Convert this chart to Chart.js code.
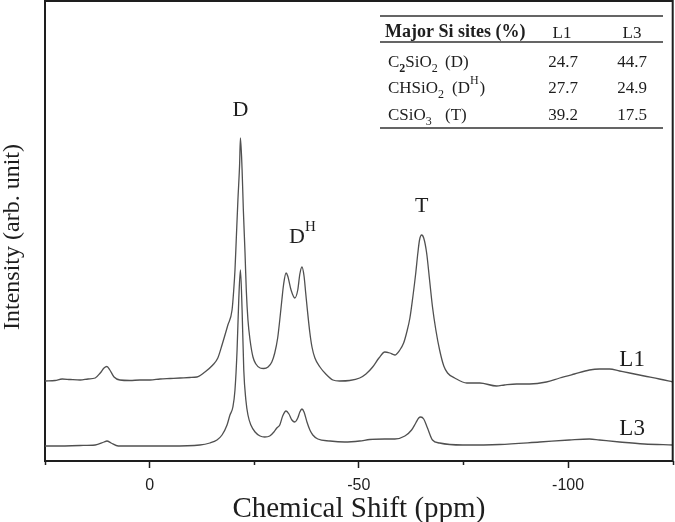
<!DOCTYPE html>
<html>
<head>
<meta charset="utf-8">
<script src="https://cdn.jsdelivr.net/npm/chart.js@4.4.0/dist/chart.umd.min.js"></script>
<style>
  html, body { margin: 0; padding: 0; background: #fff; }
</style>
</head>
<body>
<canvas id="chart" width="675" height="522"></canvas>
<script>
// chemical shift (ppm) and intensity (arb. unit); L1 sits offset above L3
const l1Shift = [25.0, 22.6, 20.9, 19.0, 16.6, 14.7, 13.0, 11.8, 10.9, 10.2, 9.5, 8.5, 7.1, 4.7, 2.3, -0.1,
  -2.5, -4.9, -7.3, -9.6, -11.3, -13.2, -15.1, -16.3, -17.3, -18.7, -19.7, -20.1, -20.4, -20.7, -21.1, -21.5,
  -21.7, -22.1, -22.4, -22.8, -23.1, -23.5, -24.0, -24.7, -25.4, -26.4, -27.3, -28.3, -29.2, -29.9, -30.6, -31.1,
  -31.6, -32.0, -32.6, -33.0, -33.8, -34.7, -35.4, -35.9, -36.4, -36.9, -37.3, -37.7, -38.3, -38.8, -39.5, -40.7,
  -42.1, -43.8, -45.4, -47.8, -50.2, -51.7, -53.3, -54.8, -56.2, -57.4, -58.6, -59.8, -60.7, -61.4, -62.2, -62.9,
  -63.6, -64.1, -64.5, -65.0, -65.5, -66.2, -66.9, -67.6, -68.4, -69.3, -70.3, -71.2, -72.9, -75.8, -78.9, -82.9,
  -84.8, -87.7, -90.8, -94.8, -98.0, -101.5, -105.1, -107.5, -109.9, -112.3, -114.7, -118.2, -121.8, -125.0];
const l1Intensity = [80, 80.5, 82, 81.5, 81, 82, 83, 88, 93, 94.5, 91, 84, 81, 80.5, 81, 81,
  82, 82.5, 83, 83.5, 84, 89, 96, 103, 116, 136, 151, 171, 191, 221, 261, 296,
  323, 291, 251, 208, 171, 141, 121, 104, 97, 93, 92.5, 94, 99, 108, 123, 141,
  161, 176, 188, 185, 171, 163, 171, 187, 194, 185, 168, 151, 128, 114, 103, 94,
  87, 81, 80, 80.5, 83, 87, 94, 103, 109, 108, 106, 111, 118, 128, 143, 164,
  188, 208, 221, 226, 223, 208, 181, 154, 131, 111, 95, 88, 83, 78, 78, 75,
  76, 77, 77, 79, 83, 87, 91, 92, 92, 90, 88, 85, 82, 79];

const l3Shift = [25.0, 21.4, 16.6, 13.0, 10.9, 10.2, 9.2, 7.5, 2.3, -4.9, -12.0, -14.4, -16.1, -17.3, -18.5, -19.2,
  -19.9, -20.4, -20.9, -21.3, -21.7, -22.1, -22.5, -23.0, -23.5, -24.2, -25.2, -26.4, -27.5, -28.7, -29.7, -30.4,
  -31.1, -31.8, -32.6, -33.3, -34.0, -34.7, -35.4, -35.9, -36.4, -36.9, -37.6, -38.3, -39.0, -40.2, -43.1, -46.6,
  -50.2, -52.6, -56.2, -58.6, -61.0, -62.6, -63.6, -64.3, -64.8, -65.5, -66.4, -67.6, -69.3, -74.8, -83.6, -93.2,
  -100.3, -105.1, -107.5, -112.3, -118.2, -125.0];
const l3Intensity = [15, 15, 15.5, 16, 19, 20, 18, 15, 15, 15, 16, 18, 21, 26, 36, 46,
  54, 71, 111, 161, 191, 151, 91, 61, 46, 36, 29, 25, 24, 25, 29, 33,
  36, 45, 50, 47, 41, 39, 43, 49, 52, 49, 39, 31, 26, 22, 20, 19,
  20, 21.5, 22, 22, 25, 31, 38, 43, 44, 42, 33, 21, 18, 16, 16.5, 19,
  21, 22, 21, 19, 17, 16];

// inset table
const siteFormulas = [
  [{ t: 'C' }, { t: '2', s: 'sub', b: true }, { t: 'SiO' }, { t: '2', s: 'sub' }],
  [{ t: 'CHSiO' }, { t: '2', s: 'sub' }],
  [{ t: 'CSiO' }, { t: '3', s: 'sub' }]
];
const siteTags = [
  [{ t: '(D)' }],
  [{ t: '(D' }, { t: 'H', s: 'sup' }, { t: ')' }],
  [{ t: '(T)' }]
];
const l1Percent = ['24.7', '27.7', '39.2'];
const l3Percent = ['44.7', '24.9', '17.5'];

const SERIF = '"Liberation Serif", "Times New Roman", serif';
const INK = '#1e1e1e';

// draws text with sub/superscript pieces, left to right
function rich(ctx, x, y, parts, size, align) {
  const fontFor = p => `${p.b ? 'bold ' : ''}${p.s ? Math.round(size * 0.68) : size}px ${SERIF}`;
  ctx.textAlign = 'left';
  let w = 0;
  parts.forEach(p => { ctx.font = fontFor(p); w += ctx.measureText(p.t).width; });
  let cx = align === 'center' ? x - w / 2 : x;
  parts.forEach(p => {
    ctx.font = fontFor(p);
    const dy = p.s === 'sub' ? size * 0.28 : p.s === 'sup' ? -size * 0.55 : 0;
    ctx.fillText(p.t, cx, y + dy);
    cx += ctx.measureText(p.t).width + (p.s === 'sup' ? 1 : 0);
  });
}

const decor = {
  id: 'decor',
  afterDraw(chart) {
    const { ctx, chartArea: a, scales: { x, y } } = chart;
    ctx.save();
    ctx.strokeStyle = INK;
    // top and right of the frame
    ctx.lineWidth = 2;
    ctx.beginPath();
    ctx.moveTo(a.left - 1, a.top);
    ctx.lineTo(a.right, a.top);
    ctx.lineTo(a.right, a.bottom);
    ctx.stroke();
    // short minor ticks
    ctx.lineWidth = 1.5;
    ctx.beginPath();
    x.ticks.forEach(t => {
      if (t.value % 50 !== 0) {
        const px = Math.round(x.getPixelForValue(t.value)) + 0.5;
        ctx.moveTo(px, a.bottom);
        ctx.lineTo(px, a.bottom + 4);
      }
    });
    ctx.stroke();

    ctx.fillStyle = INK;
    ctx.textBaseline = 'middle';
    ctx.textAlign = 'center';
    // y title
    ctx.save();
    ctx.translate(13, 237);
    ctx.rotate(-Math.PI / 2);
    ctx.font = `24px ${SERIF}`;
    ctx.fillText('Intensity (arb. unit)', 0, 0);
    ctx.restore();

    // peak labels
    ctx.font = `22px ${SERIF}`;
    ctx.fillText('D', x.getPixelForValue(-21.7), y.getPixelForValue(351));
    ctx.fillText('T', x.getPixelForValue(-65.0), y.getPixelForValue(255));
    ctx.textBaseline = 'alphabetic';
    rich(ctx, x.getPixelForValue(-36.5), y.getPixelForValue(218), [{ t: 'D' }, { t: 'H', s: 'sup' }], 22, 'center');
    // trace labels
    ctx.textAlign = 'center';
    ctx.textBaseline = 'middle';
    ctx.font = `23px ${SERIF}`;
    ctx.fillText('L1', x.getPixelForValue(-115.3), y.getPixelForValue(101));
    ctx.fillText('L3', x.getPixelForValue(-115.3), y.getPixelForValue(32));

    // inset table
    ctx.textBaseline = 'alphabetic';
    ctx.lineWidth = 1.5;
    ctx.strokeStyle = '#333';
    ctx.beginPath();
    [16, 42, 128].forEach(ty => { ctx.moveTo(380, ty); ctx.lineTo(663, ty); });
    ctx.stroke();
    ctx.textAlign = 'left';
    ctx.font = `bold 18px ${SERIF}`;
    ctx.fillText('Major Si sites (%)', 385, 37);
    ctx.textAlign = 'center';
    ctx.font = `17px ${SERIF}`;
    ctx.fillText('L1', 562, 38);
    ctx.fillText('L3', 632, 38);
    const rowY = [67, 93, 120];
    const tagX = [445, 452, 445];
    siteFormulas.forEach((f, i) => {
      rich(ctx, 388, rowY[i], f, 17, 'left');
      rich(ctx, tagX[i], rowY[i], siteTags[i], 17, 'left');
      ctx.textAlign = 'center';
      ctx.font = `17px ${SERIF}`;
      ctx.fillText(l1Percent[i], 563, rowY[i]);
      ctx.fillText(l3Percent[i], 632, rowY[i]);
    });
    ctx.restore();
  }
};

const traceStyle = {
  borderColor: '#505050',
  borderWidth: 1.3,
  pointRadius: 0,
  fill: false,
  cubicInterpolationMode: 'monotone'
};

new Chart(document.getElementById('chart'), {
  type: 'line',
  data: {
    datasets: [
      { label: 'L1', data: l1Shift.map((v, i) => ({ x: v, y: l1Intensity[i] })), ...traceStyle },
      { label: 'L3', data: l3Shift.map((v, i) => ({ x: v, y: l3Intensity[i] })), ...traceStyle }
    ]
  },
  options: {
    responsive: false,
    animation: false,
    devicePixelRatio: 1,
    layout: { padding: { left: 45, right: 2.3, top: 1, bottom: 0 } },
    plugins: { legend: { display: false }, tooltip: { enabled: false } },
    scales: {
      x: {
        type: 'linear',
        reverse: true,
        min: -125,
        max: 25,
        border: { display: true, color: INK, width: 2 },
        grid: {
          drawOnChartArea: false,
          tickLength: 7,
          tickWidth: 1.5,
          tickColor: c => (c.tick && c.tick.value % 50 === 0 ? INK : 'rgba(0,0,0,0)')
        },
        ticks: {
          stepSize: 25,
          padding: 8,
          maxRotation: 0,
          autoSkip: false,
          color: INK,
          font: { family: '"Liberation Sans", Arial, sans-serif', size: 16 },
          callback: v => (v % 50 === 0 ? String(v) : '')
        },
        title: {
          display: true,
          text: 'Chemical Shift (ppm)',
          color: INK,
          font: { family: SERIF, size: 29, lineHeight: 1 },
          padding: { top: 1, bottom: -2 }
        },
        afterFit: s => { s.height = 61; s.paddingLeft = 0; s.paddingRight = 0; }
      },
      y: {
        min: 0,
        max: 460,
        border: { display: true, color: INK, width: 2 },
        grid: { display: false },
        ticks: { display: false },
        afterFit: s => { s.width = 0; }
      }
    }
  },
  plugins: [decor]
});
</script>
</body>
</html>
